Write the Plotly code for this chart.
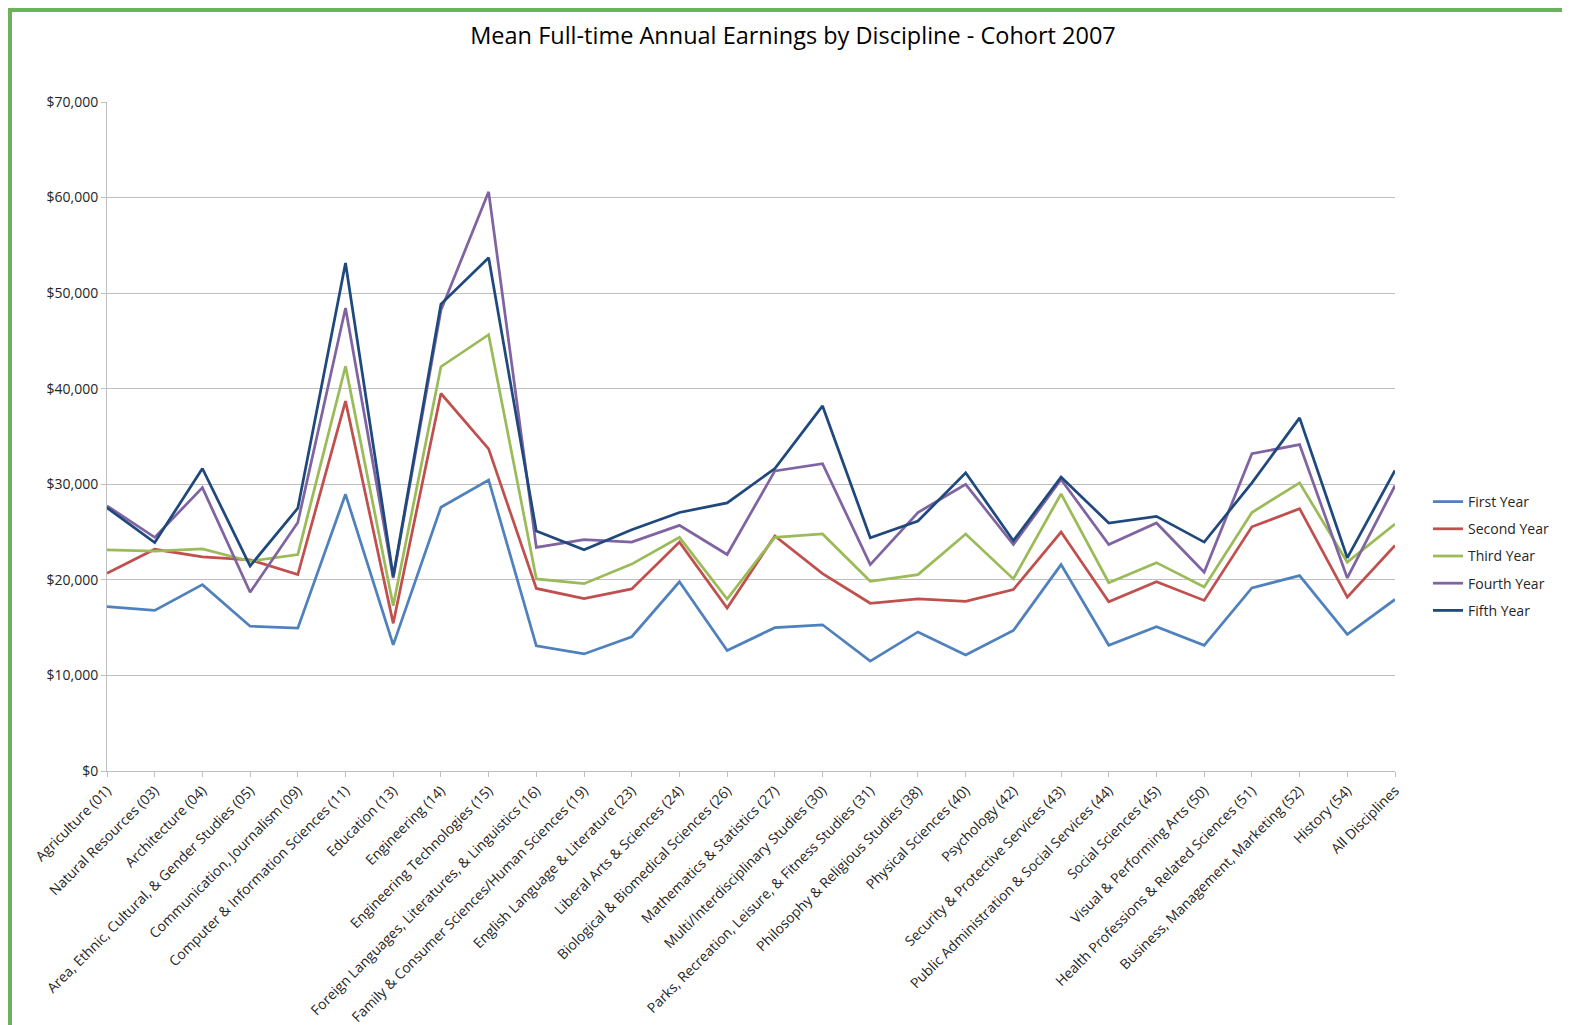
import plotly.graph_objects as go

categories = [
    "Agriculture (01)", "Natural Resources (03)", "Architecture (04)",
    "Area, Ethnic, Cultural, & Gender Studies (05)", "Communication, Journalism (09)",
    "Computer & Information Sciences (11)", "Education (13)", "Engineering (14)",
    "Engineering Technologies (15)", "Foreign Languages, Literatures, & Linguistics (16)",
    "Family & Consumer Sciences/Human Sciences (19)", "English Language & Literature (23)",
    "Liberal Arts & Sciences (24)", "Biological & Biomedical Sciences (26)",
    "Mathematics & Statistics (27)", "Multi/Interdisciplinary Studies (30)",
    "Parks, Recreation, Leisure, & Fitness Studies (31)", "Philosophy & Religious Studies (38)",
    "Physical Sciences (40)", "Psychology (42)", "Security & Protective Services (43)",
    "Public Administration & Social Services (44)", "Social Sciences (45)",
    "Visual & Performing Arts (50)", "Health Professions & Related Sciences (51)",
    "Business, Management, Marketing (52)", "History (54)", "All Disciplines",
]

first_year = [17200, 16800, 19500, 15150, 14950, 28950, 13200, 27600, 30450, 13100,
              12250, 14050, 19800, 12600, 15000, 15300, 11500, 14550, 12150, 14700,
              21600, 13150, 15100, 13150, 19150, 20450, 14300, 17950]
second_year = [20700, 23200, 22400, 22100, 20550, 38700, 15450, 39500, 33700, 19100,
               18050, 19050, 23950, 17050, 24600, 20650, 17550, 18000, 17750, 18990,
               25000, 17700, 19800, 17850, 25550, 27450, 18200, 23600]
third_year = [23150, 23000, 23250, 21950, 22650, 42350, 17300, 42300, 45650, 20100,
              19600, 21650, 24450, 18000, 24450, 24800, 19850, 20550, 24800, 20100,
              29000, 19700, 21800, 19250, 27050, 30150, 21850, 25850]
fourth_year = [27750, 24450, 29650, 18700, 26000, 48450, 20200, 48200, 60600, 23400,
               24200, 23950, 25700, 22650, 31400, 32150, 21600, 27050, 30000, 23700,
               30500, 23700, 25950, 20800, 33200, 34150, 20200, 29850]
fifth_year = [27550, 23900, 31650, 21450, 27500, 53150, 20350, 48850, 53700, 25100,
              23150, 25250, 27050, 28050, 31650, 38200, 24400, 26150, 31200, 24100,
              30750, 25950, 26650, 23950, 30150, 36950, 22300, 31450]

series_names = ["First Year", "Second Year", "Third Year", "Fourth Year", "Fifth Year"]
series_values = [first_year, second_year, third_year, fourth_year, fifth_year]
series_colors = ["#4F81BD", "#C0504D", "#9BBB59", "#8064A2", "#1F497D"]

y_ticks = [0, 10000, 20000, 30000, 40000, 50000, 60000, 70000]
y_tick_labels = ["$0", "$10,000", "$20,000", "$30,000", "$40,000", "$50,000", "$60,000", "$70,000"]

FONT = "Open Sans"
OFF = 8  # page body margin offset

fig = go.Figure()
for name, vals, col in zip(series_names, series_values, series_colors):
    fig.add_trace(go.Scatter(
        x=categories, y=vals, name=name, mode="lines", legendgroup=name,
        line=dict(color=col, width=2.75),
    ))

W, H = 1570 - OFF, 1025 - OFF
L, R, T, B = 107 - OFF, 1395 - OFF, 102 - OFF, 771 - OFF

def px(xp):
    return (xp - OFF - L) / (R - L)

def py(yp):
    return (B - (yp - OFF)) / (B - T)

fig.update_layout(
    width=W, height=H,
    margin=dict(l=L, r=W - R, t=T, b=H - B, autoexpand=False),
    paper_bgcolor="white", plot_bgcolor="white",
    font=dict(family=FONT, color="#000000", size=14),
    title=dict(text="Mean Full-time Annual Earnings by Discipline - Cohort 2007",
               x=(793 - OFF) / W, xanchor="center", y=1 - (36 - OFF) / H, yanchor="middle",
               font=dict(family=FONT, size=23.5, color="#000000")),
    legend=dict(x=px(1428), xanchor="left",
                y=py(556), yanchor="middle",
                font=dict(family=FONT, size=14, color="#262626"),
                bgcolor="rgba(0,0,0,0)", tracegroupgap=6, itemwidth=30),
    showlegend=True,
    xaxis=dict(
        type="category", range=[0, len(categories) - 1],
        tickangle=-45, tickfont=dict(family=FONT, size=14, color="#262626"),
        showgrid=False, showline=True, linecolor="#BFBFBF", linewidth=1,
        ticks="outside", ticklen=5, tickcolor="#BFBFBF", zeroline=False,
    ),
    yaxis=dict(
        range=[0, 70000], tickvals=y_ticks, ticktext=y_tick_labels,
        tickfont=dict(family=FONT, size=14, color="#262626"),
        showgrid=True, gridcolor="#BFBFBF", gridwidth=1,
        showline=True, linecolor="#BFBFBF", linewidth=1,
        ticks="outside", ticklen=5, tickcolor="#BFBFBF", zeroline=False,
    ),
)

# green frame around the chart area
fig.add_shape(type="rect", xref="paper", yref="paper",
              x0=px(10), x1=px(1590),
              y0=py(1045), y1=py(10),
              line=dict(color="#6AB35A", width=4), layer="below")

fig.write_html("out.html")
